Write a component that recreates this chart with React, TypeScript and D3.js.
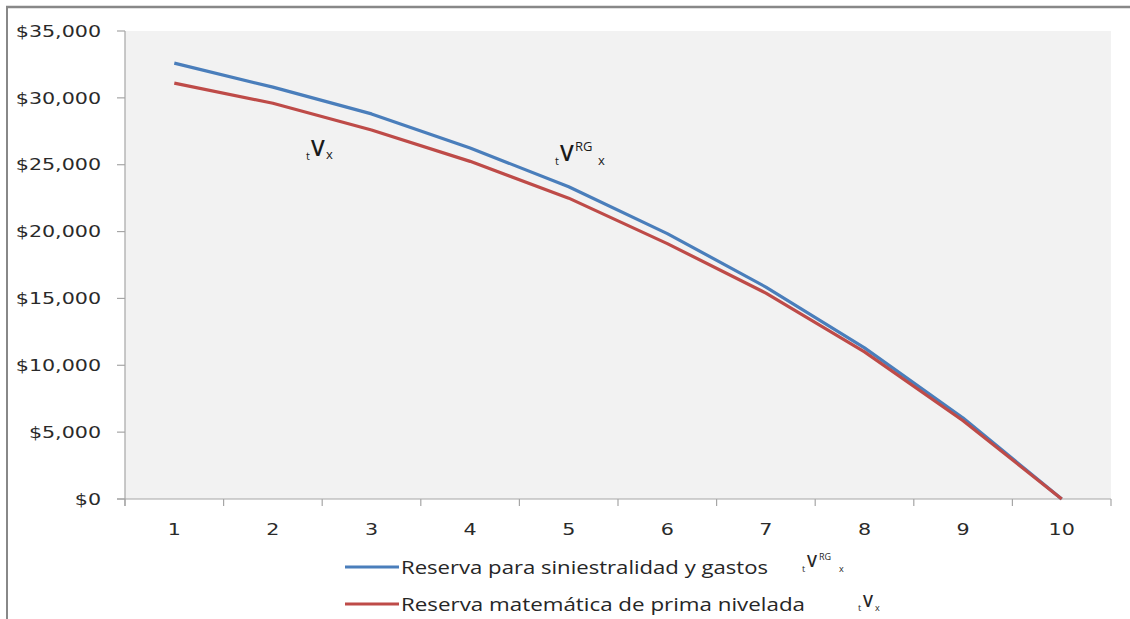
import React from "react";
import * as d3 from "d3";

// Policy years
const years = [1, 2, 3, 4, 5, 6, 7, 8, 9, 10];
// Reserve for claims and expenses (tV^RG_x)
const reservaGastos = [32600, 30800, 28800, 26250, 23350, 19850, 15850, 11300, 6050, 0];
// Net level premium reserve (tV_x)
const reservaMatematica = [31100, 29600, 27600, 25250, 22500, 19100, 15400, 11000, 5850, 0];
const yTicks = [0, 5000, 10000, 15000, 20000, 25000, 30000, 35000];

const W = 1130;
const H = 619;
const plot = { left: 125, right: 1111, top: 31, bottom: 499 };
const BLUE = "#4a7ebb";
const RED = "#be4b48";
const AXIS = "#a6a6a6";
const NUM_FONT = "'DejaVu Sans', Verdana, sans-serif";
const TXT_FONT = "'Open Sans', 'Liberation Sans', sans-serif";

export default function App() {
  const x = d3
    .scaleBand<number>()
    .domain(years)
    .range([plot.left, plot.right])
    .paddingInner(0)
    .paddingOuter(0);
  const y = d3.scaleLinear().domain([0, 35000]).range([plot.bottom, plot.top]);
  const cx = (d: number) => (x(d) ?? 0) + x.bandwidth() / 2;
  const line = d3
    .line<number>()
    .x((_, i) => cx(years[i]))
    .y((v) => y(v));
  const fmt = (v: number) => "$" + d3.format(",")(v);

  const numText = (tx: number, ty: number, s: string, anchor: string) => (
    <text
      key={s + tx + ty}
      transform={`translate(${tx},${ty}) scale(1.25,1)`}
      textAnchor={anchor}
      dominantBaseline="central"
      fontFamily={NUM_FONT}
      fontSize={16.5}
      fill="#2a2a2a"
    >
      {s}
    </text>
  );

  const boundaries = d3.range(years.length + 1).map((i) => plot.left + i * x.bandwidth());

  return (
    <svg width={W} height={H} style={{ position: "absolute", left: 0, top: 0 }}>
      <rect x={0} y={0} width={W} height={H} fill="#ffffff" />
      {/* chart frame */}
      <line x1={6} y1={7} x2={W} y2={7} stroke="#888" strokeWidth={2.5} />
      <line x1={7} y1={6} x2={7} y2={H} stroke="#888" strokeWidth={2} />

      {/* plot area */}
      <rect
        x={plot.left}
        y={plot.top}
        width={plot.right - plot.left}
        height={plot.bottom - plot.top}
        fill="#f2f2f2"
      />

      {/* y axis */}
      <line x1={plot.left} y1={plot.top} x2={plot.left} y2={plot.bottom + 7} stroke={AXIS} strokeWidth={1.2} />
      {yTicks.map((t) => (
        <g key={t}>
          <line x1={plot.left - 8} y1={y(t)} x2={plot.left} y2={y(t)} stroke={AXIS} strokeWidth={1.2} />
          {numText(101, y(t), fmt(t), "end")}
        </g>
      ))}

      {/* x axis */}
      <line x1={plot.left - 8} y1={plot.bottom} x2={plot.right} y2={plot.bottom} stroke={AXIS} strokeWidth={1.2} />
      {boundaries.map((b, i) => (
        <line key={i} x1={b} y1={plot.bottom} x2={b} y2={plot.bottom + 7} stroke={AXIS} strokeWidth={1.2} />
      ))}
      {years.map((yr) => numText(cx(yr), 529, String(yr), "middle"))}

      {/* series */}
      <path d={line(reservaGastos) ?? ""} fill="none" stroke={BLUE} strokeWidth={3.2} strokeLinejoin="round" />
      <path d={line(reservaMatematica) ?? ""} fill="none" stroke={RED} strokeWidth={3.2} strokeLinejoin="round" />

      {/* in-plot annotations */}
      <g fontFamily={TXT_FONT} fill="#1a1a1a">
        <text x={306} y={160} fontSize={11}>t</text>
        <text x={311} y={156} fontSize={22} fontWeight={600}>V</text>
        <text x={326} y={159} fontSize={13}>x</text>

        <text x={555} y={165} fontSize={11}>t</text>
        <text x={560} y={161} fontSize={22} fontWeight={600}>V</text>
        <text x={575} y={151} fontSize={13}>RG</text>
        <text x={598} y={165} fontSize={13}>x</text>
      </g>

      {/* legend */}
      <g fontFamily={TXT_FONT} fill="#262626">
        <line x1={345} y1={567} x2={399} y2={567} stroke={BLUE} strokeWidth={3.2} />
        <text x={401} y={574} fontSize={18} textLength={367} lengthAdjust="spacingAndGlyphs">
          Reserva para siniestralidad y gastos
        </text>
        <text x={802} y={572} fontSize={9}>t</text>
        <text x={807} y={567} fontSize={16} fontWeight={600}>V</text>
        <text x={819} y={560} fontSize={9}>RG</text>
        <text x={839} y={572} fontSize={9}>x</text>

        <line x1={345} y1={604} x2={399} y2={604} stroke={RED} strokeWidth={3.2} />
        <text x={401} y={611} fontSize={18} textLength={404} lengthAdjust="spacingAndGlyphs">
          Reserva matemática de prima nivelada
        </text>
        <text x={858} y={611} fontSize={9}>t</text>
        <text x={863} y={607} fontSize={16} fontWeight={600}>V</text>
        <text x={875} y={611} fontSize={9}>x</text>
      </g>
    </svg>
  );
}
